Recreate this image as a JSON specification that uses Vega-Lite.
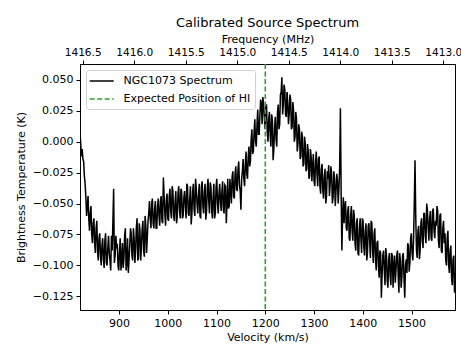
{
  "$schema": "https://vega.github.io/schema/vega-lite/v6.json",
  "width": 375,
  "height": 246,
  "autosize": {"type": "none"},
  "padding": {"left": 80, "top": 64, "right": 6, "bottom": 36},
  "background": "white",
  "config": {
    "font": "DejaVu Sans",
    "view": {"stroke": "#000", "strokeWidth": 1},
    "axis": {
      "grid": false,
      "domainColor": "#000",
      "tickColor": "#000",
      "tickSize": 4,
      "labelColor": "#000",
      "titleColor": "#000",
      "labelFontSize": 11,
      "titleFontSize": 11,
      "titleFontWeight": "normal",
      "labelPadding": 3
    },
    "legend": {
      "orient": "top-left", "offset": 6, "symbolType": "M-1.33,0H3.04", "symbolSize": 121, "symbolStrokeWidth": 1.6,
      "labelFontSize": 11, "labelColor": "#000", "labelOffset": 20, "padding": 4.5, "rowPadding": 6,
      "fillColor": "rgba(255,255,255,0.8)", "strokeColor": "#d0d0d0", "cornerRadius": 3
    },
    "title": {"fontSize": 13, "fontWeight": "normal", "color": "#000"}
  },
  "title": {"text": "Calibrated Source Spectrum", "offset": 3},
  "datasets": {
    "spec": [
      {"v":820,"t":0.008},{"v":821.5,"t":-0.002},{"v":823,"t":-0.012},{"v":824.5,"t":-0.006},{"v":826,"t":-0.014},{"v":827.5,"t":-0.016},{"v":829,"t":-0.028},{"v":830.5,"t":-0.034},{"v":832,"t":-0.045},{"v":833.5,"t":-0.060},
      {"v":835,"t":-0.052},{"v":836.5,"t":-0.044},{"v":838,"t":-0.062},{"v":839.5,"t":-0.072},{"v":841,"t":-0.058},{"v":842.5,"t":-0.052},{"v":844,"t":-0.075},{"v":845.5,"t":-0.082},{"v":847,"t":-0.066},{"v":848.5,"t":-0.062},
      {"v":850,"t":-0.082},{"v":851.5,"t":-0.090},{"v":853,"t":-0.070},{"v":854.5,"t":-0.064},{"v":856,"t":-0.088},{"v":857.5,"t":-0.096},{"v":859,"t":-0.078},{"v":860.5,"t":-0.074},{"v":862,"t":-0.092},{"v":863.5,"t":-0.100},
      {"v":865,"t":-0.084},{"v":866.5,"t":-0.078},{"v":868,"t":-0.095},{"v":869.5,"t":-0.102},{"v":871,"t":-0.080},{"v":872.5,"t":-0.074},{"v":874,"t":-0.098},{"v":875.5,"t":-0.100},{"v":877,"t":-0.086},{"v":878.5,"t":-0.076},
      {"v":880,"t":-0.090},{"v":881.5,"t":-0.096},{"v":883,"t":-0.104},{"v":884.5,"t":-0.076},{"v":886,"t":-0.088},{"v":887.5,"t":-0.064},{"v":889,"t":-0.038},{"v":890.5,"t":-0.098},{"v":892,"t":-0.092},{"v":893.5,"t":-0.076},
      {"v":895,"t":-0.085},{"v":896.5,"t":-0.084},{"v":898,"t":-0.100},{"v":899.5,"t":-0.104},{"v":901,"t":-0.088},{"v":902.5,"t":-0.078},{"v":904,"t":-0.104},{"v":905.5,"t":-0.096},{"v":907,"t":-0.082},{"v":908.5,"t":-0.102},
      {"v":910,"t":-0.095},{"v":911.5,"t":-0.076},{"v":913,"t":-0.070},{"v":914.5,"t":-0.104},{"v":916,"t":-0.098},{"v":917.5,"t":-0.078},{"v":919,"t":-0.106},{"v":920.5,"t":-0.096},{"v":922,"t":-0.084},{"v":923.5,"t":-0.070},
      {"v":925,"t":-0.074},{"v":926.5,"t":-0.092},{"v":928,"t":-0.096},{"v":929.5,"t":-0.070},{"v":931,"t":-0.078},{"v":932.5,"t":-0.098},{"v":934,"t":-0.088},{"v":935.5,"t":-0.070},{"v":937,"t":-0.062},{"v":938.5,"t":-0.096},
      {"v":940,"t":-0.094},{"v":941.5,"t":-0.066},{"v":943,"t":-0.072},{"v":944.5,"t":-0.096},{"v":946,"t":-0.085},{"v":947.5,"t":-0.070},{"v":949,"t":-0.064},{"v":950.5,"t":-0.088},{"v":952,"t":-0.093},{"v":953.5,"t":-0.060},
      {"v":955,"t":-0.068},{"v":956.5,"t":-0.090},{"v":958,"t":-0.078},{"v":959.5,"t":-0.064},{"v":961,"t":-0.058},{"v":962.5,"t":-0.048},{"v":964,"t":-0.062},{"v":965.5,"t":-0.070},{"v":967,"t":-0.050},{"v":968.5,"t":-0.046},
      {"v":970,"t":-0.066},{"v":971.5,"t":-0.070},{"v":973,"t":-0.055},{"v":974.5,"t":-0.048},{"v":976,"t":-0.070},{"v":977.5,"t":-0.070},{"v":979,"t":-0.052},{"v":980.5,"t":-0.046},{"v":982,"t":-0.060},{"v":983.5,"t":-0.068},
      {"v":985,"t":-0.048},{"v":986.5,"t":-0.044},{"v":988,"t":-0.064},{"v":989.5,"t":-0.066},{"v":991,"t":-0.029},{"v":992.5,"t":-0.044},{"v":994,"t":-0.058},{"v":995.5,"t":-0.068},{"v":997,"t":-0.047},{"v":998.5,"t":-0.042},
      {"v":1000,"t":-0.062},{"v":1001.5,"t":-0.064},{"v":1003,"t":-0.044},{"v":1004.5,"t":-0.038},{"v":1006,"t":-0.056},{"v":1007.5,"t":-0.062},{"v":1009,"t":-0.036},{"v":1010.5,"t":-0.040},{"v":1012,"t":-0.060},{"v":1013.5,"t":-0.064},
      {"v":1015,"t":-0.048},{"v":1016.5,"t":-0.040},{"v":1018,"t":-0.066},{"v":1019.5,"t":-0.060},{"v":1021,"t":-0.042},{"v":1022.5,"t":-0.036},{"v":1024,"t":-0.054},{"v":1025.5,"t":-0.062},{"v":1027,"t":-0.038},{"v":1028.5,"t":-0.040},
      {"v":1030,"t":-0.062},{"v":1031.5,"t":-0.060},{"v":1033,"t":-0.045},{"v":1034.5,"t":-0.040},{"v":1036,"t":-0.052},{"v":1037.5,"t":-0.062},{"v":1039,"t":-0.034},{"v":1040.5,"t":-0.036},{"v":1042,"t":-0.058},{"v":1043.5,"t":-0.060},
      {"v":1045,"t":-0.046},{"v":1046.5,"t":-0.036},{"v":1048,"t":-0.067},{"v":1049.5,"t":-0.058},{"v":1051,"t":-0.040},{"v":1052.5,"t":-0.034},{"v":1054,"t":-0.055},{"v":1055.5,"t":-0.060},{"v":1057,"t":-0.030},{"v":1058.5,"t":-0.038},
      {"v":1060,"t":-0.050},{"v":1061.5,"t":-0.058},{"v":1063,"t":-0.044},{"v":1064.5,"t":-0.034},{"v":1066,"t":-0.060},{"v":1067.5,"t":-0.062},{"v":1069,"t":-0.036},{"v":1070.5,"t":-0.032},{"v":1072,"t":-0.052},{"v":1073.5,"t":-0.058},
      {"v":1075,"t":-0.041},{"v":1076.5,"t":-0.034},{"v":1078,"t":-0.063},{"v":1079.5,"t":-0.056},{"v":1081,"t":-0.038},{"v":1082.5,"t":-0.030},{"v":1084,"t":-0.048},{"v":1085.5,"t":-0.058},{"v":1087,"t":-0.033},{"v":1088.5,"t":-0.036},
      {"v":1090,"t":-0.055},{"v":1091.5,"t":-0.062},{"v":1093,"t":-0.045},{"v":1094.5,"t":-0.034},{"v":1096,"t":-0.062},{"v":1097.5,"t":-0.058},{"v":1099,"t":-0.037},{"v":1100.5,"t":-0.030},{"v":1102,"t":-0.050},{"v":1103.5,"t":-0.058},
      {"v":1105,"t":-0.042},{"v":1106.5,"t":-0.034},{"v":1108,"t":-0.048},{"v":1109.5,"t":-0.056},{"v":1111,"t":-0.040},{"v":1112.5,"t":-0.032},{"v":1114,"t":-0.055},{"v":1115.5,"t":-0.058},{"v":1117,"t":-0.035},{"v":1118.5,"t":-0.036},
      {"v":1120,"t":-0.066},{"v":1121.5,"t":-0.050},{"v":1123,"t":-0.030},{"v":1124.5,"t":-0.054},{"v":1126,"t":-0.052},{"v":1127.5,"t":-0.030},{"v":1129,"t":-0.040},{"v":1130.5,"t":-0.050},{"v":1132,"t":-0.028},{"v":1133.5,"t":-0.024},
      {"v":1135,"t":-0.044},{"v":1136.5,"t":-0.046},{"v":1138,"t":-0.026},{"v":1139.5,"t":-0.020},{"v":1141,"t":-0.038},{"v":1142.5,"t":-0.040},{"v":1144,"t":-0.022},{"v":1145.5,"t":-0.016},{"v":1147,"t":-0.035},{"v":1148.5,"t":-0.040},
      {"v":1150,"t":-0.055},{"v":1151.5,"t":-0.030},{"v":1153,"t":-0.024},{"v":1154.5,"t":-0.014},{"v":1156,"t":-0.030},{"v":1157.5,"t":-0.036},{"v":1159,"t":-0.018},{"v":1160.5,"t":-0.008},{"v":1162,"t":-0.026},{"v":1163.5,"t":-0.030},
      {"v":1165,"t":-0.012},{"v":1166.5,"t":-0.004},{"v":1168,"t":-0.020},{"v":1169.5,"t":-0.016},{"v":1171,"t":0.002},{"v":1172.5,"t":0.010},{"v":1174,"t":-0.010},{"v":1175.5,"t":-0.008},{"v":1177,"t":0.008},{"v":1178.5,"t":0.018},
      {"v":1180,"t":0.000},{"v":1181.5,"t":-0.004},{"v":1183,"t":0.014},{"v":1184.5,"t":0.026},{"v":1186,"t":0.006},{"v":1187.5,"t":0.006},{"v":1189,"t":0.022},{"v":1190.5,"t":0.034},{"v":1192,"t":0.030},{"v":1193.5,"t":0.014},
      {"v":1195,"t":0.036},{"v":1196.5,"t":0.030},{"v":1198,"t":0.020},{"v":1199.5,"t":0.010},{"v":1201,"t":0.028},{"v":1202.5,"t":0.030},{"v":1204,"t":0.008},{"v":1205.5,"t":0.000},{"v":1207,"t":0.018},{"v":1208.5,"t":0.024},
      {"v":1210,"t":0.005},{"v":1211.5,"t":-0.004},{"v":1213,"t":0.022},{"v":1214.5,"t":0.018},{"v":1216,"t":-0.015},{"v":1217.5,"t":-0.006},{"v":1219,"t":0.012},{"v":1220.5,"t":0.020},{"v":1222,"t":0.002},{"v":1223.5,"t":-0.004},
      {"v":1225,"t":0.024},{"v":1226.5,"t":0.030},{"v":1228,"t":0.010},{"v":1229.5,"t":0.014},{"v":1231,"t":0.038},{"v":1232.5,"t":0.040},{"v":1234,"t":0.052},{"v":1235.5,"t":0.022},{"v":1237,"t":0.030},{"v":1238.5,"t":0.046},
      {"v":1240,"t":0.042},{"v":1241.5,"t":0.022},{"v":1243,"t":0.020},{"v":1244.5,"t":0.040},{"v":1246,"t":0.032},{"v":1247.5,"t":0.014},{"v":1249,"t":0.022},{"v":1250.5,"t":0.038},{"v":1252,"t":0.034},{"v":1253.5,"t":0.010},
      {"v":1255,"t":0.012},{"v":1256.5,"t":0.032},{"v":1258,"t":0.025},{"v":1259.5,"t":0.000},{"v":1261,"t":0.004},{"v":1262.5,"t":0.024},{"v":1264,"t":0.018},{"v":1265.5,"t":-0.008},{"v":1267,"t":-0.002},{"v":1268.5,"t":0.014},
      {"v":1270,"t":0.010},{"v":1271.5,"t":-0.014},{"v":1273,"t":-0.012},{"v":1274.5,"t":0.008},{"v":1276,"t":0.004},{"v":1277.5,"t":-0.020},{"v":1279,"t":-0.018},{"v":1280.5,"t":0.004},{"v":1282,"t":-0.002},{"v":1283.5,"t":-0.024},
      {"v":1285,"t":-0.022},{"v":1286.5,"t":-0.002},{"v":1288,"t":-0.008},{"v":1289.5,"t":-0.030},{"v":1291,"t":-0.028},{"v":1292.5,"t":-0.006},{"v":1294,"t":-0.012},{"v":1295.5,"t":-0.032},{"v":1297,"t":-0.020},{"v":1298.5,"t":-0.010},
      {"v":1300,"t":-0.032},{"v":1301.5,"t":-0.036},{"v":1303,"t":-0.016},{"v":1304.5,"t":-0.008},{"v":1306,"t":-0.026},{"v":1307.5,"t":-0.036},{"v":1309,"t":-0.014},{"v":1310.5,"t":-0.012},{"v":1312,"t":-0.036},{"v":1313.5,"t":-0.042},
      {"v":1315,"t":-0.022},{"v":1316.5,"t":-0.018},{"v":1318,"t":-0.040},{"v":1319.5,"t":-0.046},{"v":1321,"t":-0.028},{"v":1322.5,"t":-0.022},{"v":1324,"t":-0.050},{"v":1325.5,"t":-0.044},{"v":1327,"t":-0.024},{"v":1328.5,"t":-0.030},
      {"v":1330,"t":-0.019},{"v":1331.5,"t":-0.044},{"v":1333,"t":-0.034},{"v":1334.5,"t":-0.020},{"v":1336,"t":-0.026},{"v":1337.5,"t":-0.050},{"v":1339,"t":-0.045},{"v":1340.5,"t":-0.024},{"v":1342,"t":-0.030},{"v":1343.5,"t":-0.052},
      {"v":1345,"t":-0.040},{"v":1346.5,"t":-0.026},{"v":1348,"t":-0.032},{"v":1349.5,"t":-0.050},{"v":1351,"t":-0.038},{"v":1352.5,"t":-0.020},{"v":1354,"t":0.027},{"v":1355.5,"t":-0.040},{"v":1357,"t":-0.088},{"v":1358.5,"t":-0.060},
      {"v":1360,"t":-0.045},{"v":1361.5,"t":-0.066},{"v":1363,"t":-0.052},{"v":1364.5,"t":-0.048},{"v":1366,"t":-0.070},{"v":1367.5,"t":-0.072},{"v":1369,"t":-0.056},{"v":1370.5,"t":-0.052},{"v":1372,"t":-0.078},{"v":1373.5,"t":-0.080},
      {"v":1375,"t":-0.060},{"v":1376.5,"t":-0.052},{"v":1378,"t":-0.072},{"v":1379.5,"t":-0.080},{"v":1381,"t":-0.055},{"v":1382.5,"t":-0.060},{"v":1384,"t":-0.082},{"v":1385.5,"t":-0.088},{"v":1387,"t":-0.066},{"v":1388.5,"t":-0.062},
      {"v":1390,"t":-0.090},{"v":1391.5,"t":-0.092},{"v":1393,"t":-0.070},{"v":1394.5,"t":-0.062},{"v":1396,"t":-0.078},{"v":1397.5,"t":-0.090},{"v":1399,"t":-0.062},{"v":1400.5,"t":-0.064},{"v":1402,"t":-0.085},{"v":1403.5,"t":-0.092},
      {"v":1405,"t":-0.072},{"v":1406.5,"t":-0.066},{"v":1408,"t":-0.096},{"v":1409.5,"t":-0.090},{"v":1411,"t":-0.068},{"v":1412.5,"t":-0.066},{"v":1414,"t":-0.080},{"v":1415.5,"t":-0.094},{"v":1417,"t":-0.064},{"v":1418.5,"t":-0.066},
      {"v":1420,"t":-0.088},{"v":1421.5,"t":-0.098},{"v":1423,"t":-0.075},{"v":1424.5,"t":-0.070},{"v":1426,"t":-0.095},{"v":1427.5,"t":-0.104},{"v":1429,"t":-0.082},{"v":1430.5,"t":-0.080},{"v":1432,"t":-0.100},{"v":1433.5,"t":-0.110},
      {"v":1435,"t":-0.088},{"v":1436.5,"t":-0.090},{"v":1438,"t":-0.126},{"v":1439.5,"t":-0.108},{"v":1441,"t":-0.092},{"v":1442.5,"t":-0.088},{"v":1444,"t":-0.104},{"v":1445.5,"t":-0.116},{"v":1447,"t":-0.086},{"v":1448.5,"t":-0.092},
      {"v":1450,"t":-0.112},{"v":1451.5,"t":-0.118},{"v":1453,"t":-0.095},{"v":1454.5,"t":-0.090},{"v":1456,"t":-0.108},{"v":1457.5,"t":-0.116},{"v":1459,"t":-0.090},{"v":1460.5,"t":-0.092},{"v":1462,"t":-0.118},{"v":1463.5,"t":-0.100},
      {"v":1465,"t":-0.092},{"v":1466.5,"t":-0.114},{"v":1468,"t":-0.104},{"v":1469.5,"t":-0.092},{"v":1471,"t":-0.088},{"v":1472.5,"t":-0.108},{"v":1474,"t":-0.122},{"v":1475.5,"t":-0.090},{"v":1477,"t":-0.096},{"v":1478.5,"t":-0.118},
      {"v":1480,"t":-0.110},{"v":1481.5,"t":-0.092},{"v":1483,"t":-0.090},{"v":1484.5,"t":-0.112},{"v":1486,"t":-0.126},{"v":1487.5,"t":-0.100},{"v":1489,"t":-0.095},{"v":1490.5,"t":-0.106},{"v":1492,"t":-0.082},{"v":1493.5,"t":-0.084},
      {"v":1495,"t":-0.105},{"v":1496.5,"t":-0.098},{"v":1498,"t":-0.078},{"v":1499.5,"t":-0.074},{"v":1501,"t":-0.090},{"v":1502.5,"t":-0.096},{"v":1504,"t":-0.080},{"v":1505.5,"t":-0.050},{"v":1507,"t":-0.015},{"v":1508.5,"t":-0.060},
      {"v":1510,"t":-0.088},{"v":1511.5,"t":-0.094},{"v":1513,"t":-0.072},{"v":1514.5,"t":-0.068},{"v":1516,"t":-0.095},{"v":1517.5,"t":-0.088},{"v":1519,"t":-0.066},{"v":1520.5,"t":-0.062},{"v":1522,"t":-0.080},{"v":1523.5,"t":-0.086},
      {"v":1525,"t":-0.058},{"v":1526.5,"t":-0.058},{"v":1528,"t":-0.076},{"v":1529.5,"t":-0.082},{"v":1531,"t":-0.050},{"v":1532.5,"t":-0.056},{"v":1534,"t":-0.070},{"v":1535.5,"t":-0.080},{"v":1537,"t":-0.062},{"v":1538.5,"t":-0.056},
      {"v":1540,"t":-0.078},{"v":1541.5,"t":-0.080},{"v":1543,"t":-0.056},{"v":1544.5,"t":-0.054},{"v":1546,"t":-0.072},{"v":1547.5,"t":-0.078},{"v":1549,"t":-0.064},{"v":1550.5,"t":-0.068},{"v":1552,"t":-0.052},{"v":1553.5,"t":-0.056},
      {"v":1555,"t":-0.080},{"v":1556.5,"t":-0.086},{"v":1558,"t":-0.060},{"v":1559.5,"t":-0.058},{"v":1561,"t":-0.088},{"v":1562.5,"t":-0.090},{"v":1564,"t":-0.070},{"v":1565.5,"t":-0.064},{"v":1567,"t":-0.082},{"v":1568.5,"t":-0.074},
      {"v":1570,"t":-0.096},{"v":1571.5,"t":-0.100},{"v":1573,"t":-0.078},{"v":1574.5,"t":-0.072},{"v":1576,"t":-0.100},{"v":1577.5,"t":-0.106},{"v":1579,"t":-0.088},{"v":1580.5,"t":-0.084},{"v":1582,"t":-0.110},{"v":1583.5,"t":-0.116},
      {"v":1585,"t":-0.095},{"v":1586.5,"t":-0.092},{"v":1588,"t":-0.122},{"v":1589.5,"t":-0.116},{"v":1591,"t":-0.100}
    ],
    "hi": [{"v": 1200, "series": "Expected Position of HI"}],
    "freq": [{"f": 1416.526}, {"f": 1412.886}]
  },
  "layer": [
    {
      "layer": [
        {
          "data": {"name": "spec"},
          "mark": {"type": "line", "strokeWidth": 1.5, "clip": true},
          "encoding": {
            "x": {"field": "v", "type": "quantitative", "scale": {"domain": [820, 1589], "nice": false, "zero": false},
                  "axis": {"title": "Velocity (km/s)", "values": [900, 1000, 1100, 1200, 1300, 1400, 1500], "format": "d", "titlePadding": 3}},
            "y": {"field": "t", "type": "quantitative", "scale": {"domain": [-0.136, 0.0627], "nice": false, "zero": false},
                  "axis": {"title": "Brightness Temperature (K)", "values": [-0.125, -0.1, -0.075, -0.05, -0.025, 0, 0.025, 0.05], "format": ".3f", "titlePadding": 6}},
            "color": {"datum": "NGC1073 Spectrum", "type": "nominal",
                      "scale": {"domain": ["NGC1073 Spectrum", "Expected Position of HI"], "range": ["#000000", "#2ca02c"]},
                      "legend": {"title": null}},
            "strokeDash": {"datum": "NGC1073 Spectrum", "type": "nominal",
                      "scale": {"domain": ["NGC1073 Spectrum", "Expected Position of HI"], "range": [[1, 0], [5, 2.5]]},
                      "legend": {"title": null}}
          }
        },
        {
          "data": {"name": "hi"},
          "mark": {"type": "rule", "strokeWidth": 1.6},
          "encoding": {
            "x": {"field": "v", "type": "quantitative"},
            "color": {"field": "series", "type": "nominal", "legend": {"title": null}},
            "strokeDash": {"field": "series", "type": "nominal", "legend": {"title": null}}
          }
        }
      ]
    },
    {
      "data": {"name": "freq"},
      "mark": {"type": "point", "opacity": 0},
      "encoding": {
        "x": {"field": "f", "type": "quantitative",
              "scale": {"domain": [1412.886, 1416.526], "reverse": true, "nice": false, "zero": false},
              "axis": {"orient": "top", "title": "Frequency (MHz)", "labelFontSize": 10.6, "values": [1416.5, 1416, 1415.5, 1415, 1414.5, 1414, 1413.5, 1413], "format": ".1f", "titlePadding": 3}}
      }
    }
  ],
  "resolve": {"scale": {"x": "independent"}}
}
